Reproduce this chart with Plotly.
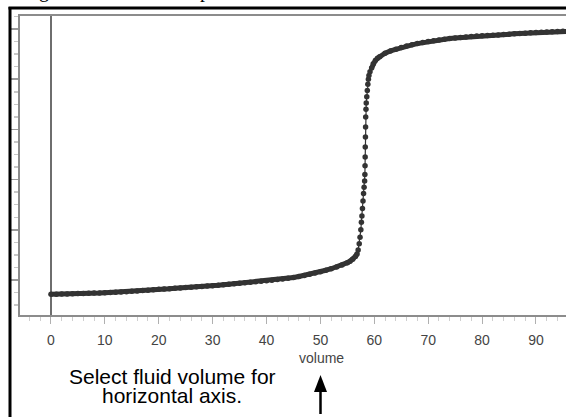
import plotly.graph_objects as go

# ---- data ----
volume = [0, 1, 2, 3, 4, 5, 6, 7, 8, 9, 10, 11, 12, 13, 14, 15, 16, 17, 18, 19,
          20, 21, 22, 23, 24, 25, 26, 27, 28, 29, 30, 31, 32, 33, 34, 35, 36, 37, 38, 39,
          40, 41, 42, 43, 44, 45, 46, 47, 48, 49, 50, 51, 52, 53, 54, 55, 55.5, 56, 56.5, 56.8,
          57.0, 57.2, 57.35, 57.5, 57.6, 57.7, 57.8, 57.9, 58.0, 58.1, 58.2, 58.25, 58.28, 58.3,
          58.32, 58.35, 58.38, 58.4, 58.45, 58.5, 58.6, 58.7, 58.8, 58.9, 59.0, 59.2, 59.5, 59.8,
          60.2, 60.6, 61, 62, 63, 64, 65, 66, 67, 68, 69, 70, 71, 72, 73, 74, 75, 76, 77, 78,
          79, 80, 81, 82, 83, 84, 85, 86, 87, 88, 89, 90, 91, 92, 93, 94, 95, 96, 97]
ph = [1.43, 1.43, 1.44, 1.44, 1.45, 1.46, 1.46, 1.47, 1.48, 1.48, 1.49, 1.50, 1.51, 1.52, 1.53,
      1.55, 1.56, 1.58, 1.59, 1.61, 1.63, 1.64, 1.65, 1.67, 1.68, 1.70, 1.71, 1.73, 1.74, 1.76,
      1.77, 1.79, 1.81, 1.83, 1.85, 1.87, 1.89, 1.91, 1.93, 1.95, 1.97, 1.99, 2.02, 2.04, 2.07,
      2.10, 2.14, 2.18, 2.23, 2.28, 2.33, 2.39, 2.45, 2.52, 2.60, 2.69, 2.75, 2.83, 2.94, 3.04,
      3.20, 3.45, 3.70, 4.00, 4.30, 4.55, 4.85, 5.15, 5.45, 5.70, 5.95, 6.20, 6.55, 6.90,
      7.30, 7.70, 8.10, 8.50, 8.80, 9.05, 9.30, 9.55, 9.80, 10.00, 10.15, 10.30, 10.45, 10.62,
      10.75, 10.84, 10.90, 11.04, 11.13, 11.20, 11.26, 11.32, 11.37, 11.42, 11.46, 11.50, 11.53,
      11.56, 11.59, 11.62, 11.64, 11.66, 11.68, 11.70, 11.72, 11.73, 11.74, 11.75, 11.76, 11.78,
      11.79, 11.81, 11.82, 11.83, 11.85, 11.86, 11.87, 11.88, 11.89, 11.90, 11.91, 11.92, 11.92]
x_ticks = [0, 10, 20, 30, 40, 50, 60, 70, 80, 90]
x_tick_labels = ["0", "10", "20", "30", "40", "50", "60", "70", "80", "90"]

W, H = 566, 417
L, T, R, B = 20, 16, 0, 102
PW, PH = W - L - R, H - T - B


def px(xp):
    return (xp - L) / PW


def py(yp):
    return (H - B - yp) / PH


curve_col = "#333333"
# indices where the curve is flat (drawn as a solid band) vs. the steep rise
i_lo = volume.index(56.8) + 1
i_hi = volume.index(59.5)

fig = go.Figure()
fig.add_trace(go.Scatter(
    x=volume[:i_lo], y=ph[:i_lo], mode="lines",
    line=dict(color=curve_col, width=5), hoverinfo="skip", showlegend=False,
))
fig.add_trace(go.Scatter(
    x=volume[i_hi:], y=ph[i_hi:], mode="lines",
    line=dict(color=curve_col, width=5), hoverinfo="skip", showlegend=False,
))
fig.add_trace(go.Scatter(
    x=volume, y=ph, mode="lines+markers",
    line=dict(color=curve_col, width=1.2),
    marker=dict(color=curve_col, size=5.5),
    hoverinfo="skip", showlegend=False,
))

grey = "#8c8c8c"
fig.update_xaxes(
    range=[-5.75, 95.57], showgrid=False,
    zeroline=True, zerolinecolor="#6e6e6e", zerolinewidth=1.5,
    showline=True, linecolor=grey, linewidth=2, mirror=True,
    tickmode="array", tickvals=x_ticks, ticktext=x_tick_labels,
    ticks="outside", ticklen=7, tickcolor="#b0b0b0", tickwidth=1,
    minor=dict(dtick=2, tick0=0, ticks="outside", ticklen=4, tickcolor="#cfcfcf", showgrid=False),
    tickfont=dict(family="Liberation Sans, Arial, sans-serif", size=14, color="#444444"),
    ticklabelstandoff=4,
)
fig.update_yaxes(
    range=[0.606, 12.52], showgrid=False, zeroline=False,
    showline=True, linecolor=grey, linewidth=2, mirror=False,
    showticklabels=False,
    tick0=0, dtick=2, ticks="outside", ticklen=7, tickcolor="#9a9a9a", tickwidth=1.5,
    minor=dict(dtick=0.5, ticks="outside", ticklen=4, tickcolor="#c8c8c8", showgrid=False),
)

ann_font = dict(family="Liberation Sans, Arial, sans-serif", size=21, color="#000000")
serif = dict(family="Liberation Serif, Times New Roman, serif", size=20, color="#000")
annotations = [
    dict(text="volume", x=px(321), y=py(357.5), xref="paper", yref="paper",
         showarrow=False, xanchor="center", yanchor="middle",
         font=dict(family="Liberation Sans, Arial, sans-serif", size=14, color="#444444")),
    dict(text="Select fluid volume for", x=px(172.5), y=py(376), xref="paper", yref="paper",
         showarrow=False, xanchor="center", yanchor="middle", font=ann_font, borderpad=0),
    dict(text="horizontal axis.", x=px(172), y=py(395), xref="paper", yref="paper",
         showarrow=False, xanchor="center", yanchor="middle", font=ann_font, borderpad=0),
    dict(text="g", x=px(44), y=py(4.5), xref="paper", yref="paper",
         showarrow=False, xanchor="center", yanchor="bottom", font=serif),
    dict(text="p", x=px(205), y=py(4.5), xref="paper", yref="paper",
         showarrow=False, xanchor="center", yanchor="bottom", font=serif),
]

shapes = [
    # outer black frame (left and top)
    dict(type="line", xref="paper", yref="paper", x0=px(10), x1=px(10), y0=py(7), y1=py(430),
         line=dict(color="#000000", width=3)),
    dict(type="line", xref="paper", yref="paper", x0=px(8.5), x1=px(580), y0=py(8), y1=py(8),
         line=dict(color="#000000", width=3)),
    # arrow shaft
    dict(type="line", xref="paper", yref="paper", x0=px(320.5), x1=px(320.5), y0=py(389), y1=py(414),
         line=dict(color="#000000", width=2.5)),
    # arrow head
    dict(type="path", xref="paper", yref="paper",
         path=f"M {px(320.5)} {py(375)} L {px(327)} {py(392)} L {px(314)} {py(392)} Z",
         fillcolor="#000000", line=dict(color="#000000", width=0)),
]

fig.update_layout(
    width=W, height=H,
    margin=dict(l=L, r=R, t=T, b=B),
    paper_bgcolor="white", plot_bgcolor="white",
    annotations=annotations, shapes=shapes,
    showlegend=False,
)

fig.write_html(
    "out.html",
    config={"displayModeBar": False, "staticPlot": True},
    post_script="document.body.style.margin='0';document.body.style.overflow='hidden';",
)
